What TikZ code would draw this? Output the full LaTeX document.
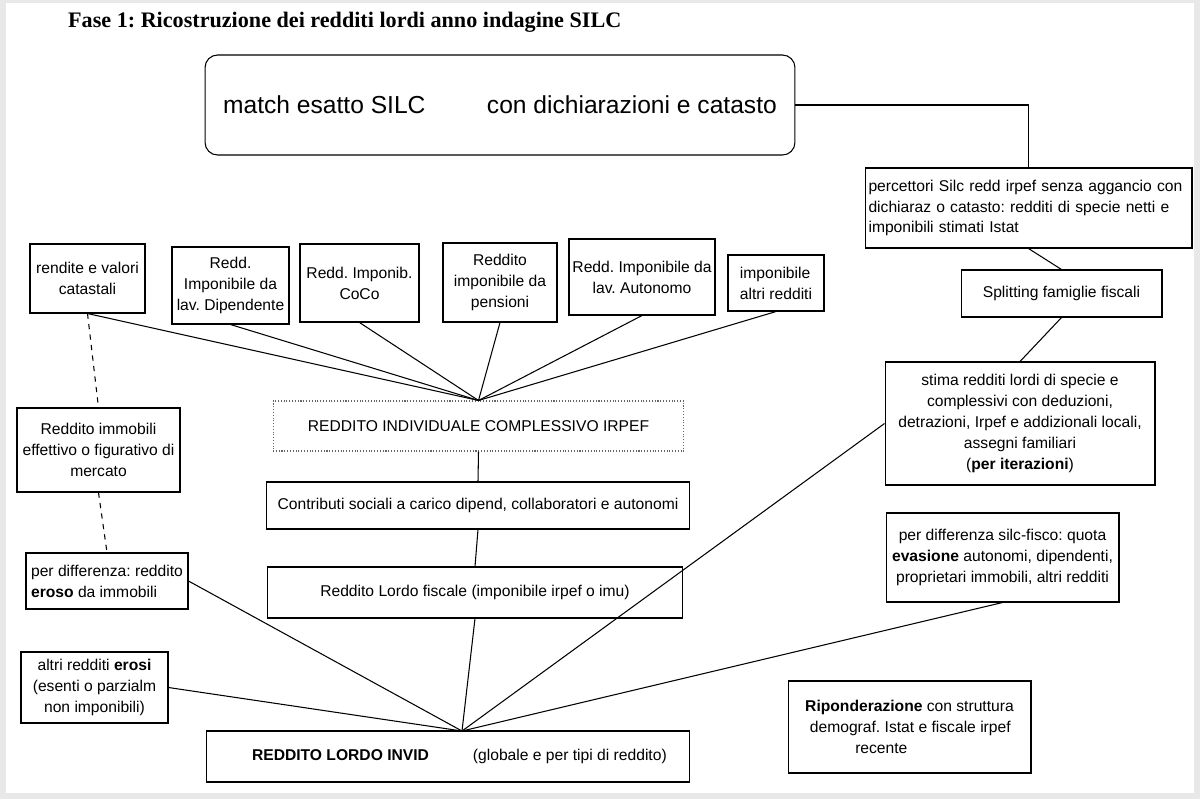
\documentclass[tikz,border=0pt]{standalone}
\usepackage{fontspec}
\setmainfont{Liberation Sans}
\newfontfamily\titlefont{Liberation Serif}
\frenchspacing
\begin{document}
\begin{tikzpicture}[x=0.02cm,y=-0.02cm,
  box/.style={draw, line width=0.6pt, align=center, inner sep=1.5pt,
    font=\fontsize{8.9}{11.9}\selectfont},
  lbox/.style={box, align=left},
  link/.style={line width=0.6pt}]
\useasboundingbox (0,0) rectangle (1200,799);
\fill[black!9] (0,0) rectangle (1200,799);
\fill[white] (6,3) rectangle (1194,793);
\node[anchor=base west, font=\titlefont\bfseries\fontsize{12.6}{15}\selectfont] (title) at (62,27) {Fase 1: Ricostruzione dei redditi lordi anno indagine SILC};
\node[draw, line width=0.6pt, rounded corners=0.25cm, minimum width=11.8cm, minimum height=2cm, font=\fontsize{14}{16}\selectfont] (match) at (500,105) {match esatto SILC\hspace{35pt}con dichiarazioni e catasto};
\node[lbox, text width=6.4cm, minimum width=6.54cm, minimum height=1.6cm] (perc) at (1028.5,208) {percettori Silc redd irpef senza aggancio con\\dichiaraz o catasto: redditi di specie netti e\\imponibili stimati Istat};
\node[box, minimum width=4.02cm, minimum height=0.94cm] (split) at (1061.5,293.5) {Splitting famiglie fiscali};
\node[box, minimum width=5.4cm, minimum height=2.46cm] (stima) at (1020,423.5) {stima redditi lordi di specie e\\complessivi con deduzioni,\\detrazioni, Irpef e addizionali locali,\\assegni familiari\\(\textbf{per iterazioni})};
\node[box, minimum width=2.3cm, minimum height=1.38cm] (rendite) at (87.5,278.5) {rendite e valori\\catastali};
\node[box, minimum width=2.34cm, minimum height=1.54cm] (dip) at (230.5,285.5) {Redd.\\Imponibile da\\lav. Dipendente};
\node[box, minimum width=2.38cm, minimum height=1.56cm] (coco) at (359.5,283) {Redd. Imponib.\\CoCo};
\node[box, minimum width=2.28cm, minimum height=1.58cm] (pens) at (500,282.5) {Reddito\\imponibile da\\pensioni};
\node[box, minimum width=2.92cm, minimum height=1.52cm] (auton) at (642,277) {Redd. Imponibile da\\lav. Autonomo};
\node[lbox, minimum width=1.92cm, minimum height=1.12cm] (altri) at (776,283) {imponibile\\altri redditi};
\node[box, draw=black!60, densely dotted, minimum width=8.22cm, minimum height=1cm] (irpef) at (478.5,426) {REDDITO INDIVIDUALE COMPLESSIVO IRPEF};
\node[box, minimum width=8.48cm, minimum height=0.94cm] (contrib) at (478,505.5) {Contributi sociali a carico dipend, collaboratori e autonomi};
\node[box, minimum width=8.32cm, minimum height=1.02cm] (lordo) at (475,592.5) {Reddito Lordo fiscale (imponibile irpef o imu)};
\node[box, minimum width=9.68cm, minimum height=1.02cm] (invid) at (448,756.5) {\hspace*{13pt}\textbf{REDDITO LORDO INVID}\hspace{25pt}(globale e per tipi di reddito)};
\node[box, minimum width=3.26cm, minimum height=1.68cm] (immob) at (98.5,450) {Reddito immobili\\effettivo o figurativo di\\mercato};
\node[lbox, minimum width=3.24cm, minimum height=1.12cm] (diff) at (107,581) {per differenza: reddito\\\textbf{eroso} da immobili};
\node[box, minimum width=2.94cm, minimum height=1.42cm] (erosi) at (94.5,687.5) {altri redditi \textbf{erosi}\\(esenti o parzialm\\non imponibili)};
\node[box, minimum width=4.66cm, minimum height=1.78cm] (evas) at (1002.5,557.5) {per differenza silc-fisco: quota\\\textbf{evasione} autonomi, dipendenti,\\proprietari immobili, altri redditi};
\node[lbox, minimum width=4.86cm, minimum height=1.84cm] (ripond) at (909.5,727) {\textbf{Riponderazione} con struttura\\\hspace*{0.3em}demograf. Istat e fiscale irpef\\\hspace*{3.2em}recente};
\coordinate (hub) at (462,731);
\draw[link] (match.east) -| (perc.north);
\draw[link] (perc.south) -- (split.north);
\draw[link] (split.south) -- (stima.north);
\foreach \n in {rendite,dip,coco,pens,auton,altri}
  \draw[link] (\n.south) -- (irpef.north);
\draw[link, dashed] (rendite.south) -- (immob.north);
\draw[link, dashed] (immob.south) -- (diff.north);
\draw[link] (irpef.south) -- (contrib.north);
\draw[link] (contrib.south) -- (lordo.north);
\foreach \n in {lordo.south,diff.east,erosi.east,stima.west,evas.south}
  \draw[link] (\n) -- (hub);
\end{tikzpicture}
\end{document}
